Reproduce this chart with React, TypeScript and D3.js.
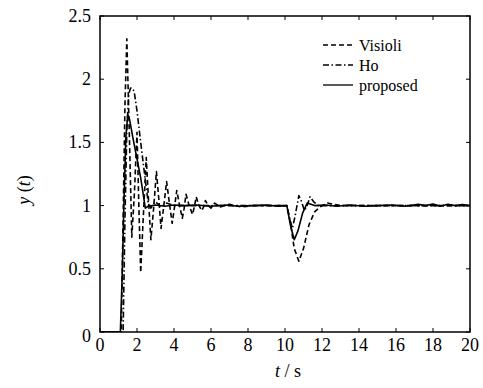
import * as d3 from 'd3';

// ─── Data ───────────────────────────────────────────────────

const X_TICKS = [0, 2, 4, 6, 8, 10, 12, 14, 16, 18, 20];
const Y_TICKS = [0, 0.5, 1, 1.5, 2, 2.5];
const Y_TICK_LABELS = ['0', '0.5', '1', '1.5', '2', '2.5'];

const SERIES_NAMES = ['Visioli', 'Ho', 'proposed'];

const visioliT = [0, 1.15, 1.25, 1.35, 1.45, 1.58, 1.72, 1.86, 2.0, 2.1, 2.2, 2.32, 2.5, 2.62, 2.75, 2.9, 3.05, 3.18, 3.3, 3.45, 3.6, 3.75, 3.9, 4.02, 4.15, 4.3, 4.45, 4.55, 4.65, 4.82, 5.0, 5.1, 5.2, 5.35, 5.5, 5.6, 5.7, 5.85, 6.0, 6.2, 6.5, 7.0, 7.6, 8.3, 9.0, 9.6, 10.1, 10.3, 10.5, 10.75, 11.0, 11.3, 11.6, 11.9, 12.3, 13.0, 14.0, 15.0, 16.0, 17.0, 18.0, 19.0, 20.0];
const visioliY = [0, 0, 0.9, 1.8, 2.32, 1.6, 0.75, 1.1, 1.58, 1.0, 0.47, 0.85, 1.38, 1.05, 0.73, 0.98, 1.27, 1.05, 0.82, 1.0, 1.19, 1.02, 0.86, 0.98, 1.12, 1.0, 0.9, 0.98, 1.09, 1.0, 0.93, 0.99, 1.07, 1.0, 0.96, 0.99, 1.04, 1.0, 0.98, 1.02, 0.99, 1.01, 0.99, 1.0, 1.0, 1.0, 1.0, 0.86, 0.66, 0.56, 0.66, 0.85, 0.95, 0.99, 1.02, 1.0, 1.0, 1.0, 1.0, 1.0, 1.0, 1.0, 1.0];

const hoT = [0, 1.25, 1.35, 1.45, 1.55, 1.65, 1.75, 1.85, 2.0, 2.2, 2.4, 2.6, 2.75, 3.0, 3.3, 3.6, 4.0, 5.0, 6.0, 8.0, 10.1, 10.25, 10.4, 10.55, 10.75, 10.9, 11.05, 11.2, 11.35, 11.55, 11.8, 12.5, 14.0, 16.0, 18.0, 20.0];
const hoY = [0, 0, 0.9, 1.6, 1.88, 1.93, 1.93, 1.9, 1.75, 1.5, 1.26, 1.03, 0.98, 1.03, 0.99, 1.02, 1.0, 1.0, 1.0, 1.0, 1.0, 0.9, 0.82, 0.92, 1.08, 1.03, 0.96, 1.0, 1.07, 1.03, 1.0, 1.0, 1.0, 1.0, 1.0, 1.0];

const proposedT = [0, 1.1, 1.2, 1.3, 1.4, 1.5, 1.6, 1.8, 2.0, 2.2, 2.45, 2.6, 3.0, 3.5, 4.0, 4.6, 5.2, 6.0, 6.8, 7.5, 8.2, 9.0, 9.6, 10.1, 10.3, 10.5, 10.7, 10.95, 11.2, 11.6, 12.2, 12.8, 13.5, 14.3, 15.0, 15.8, 16.5, 17.2, 17.6, 18.0, 18.4, 18.8, 19.2, 19.6, 20.0];
const proposedY = [0, 0, 0.45, 1.05, 1.55, 1.72, 1.68, 1.52, 1.37, 1.22, 0.98, 0.995, 1.005, 0.995, 1.005, 1.0, 1.005, 0.995, 1.005, 0.995, 1.0, 1.005, 0.995, 1.0, 0.84, 0.73, 0.8, 0.94, 1.02, 1.0, 1.005, 0.995, 1.005, 0.995, 1.0, 1.005, 0.995, 1.01, 1.0, 1.012, 0.995, 1.01, 1.0, 1.008, 1.0];

// ─── Layout ─────────────────────────────────────────────────

const W = 483;
const H = 388;
const PLOT = { left: 100, right: 470, top: 16, bottom: 332 };
const FONT = "'Liberation Serif', 'DejaVu Serif', 'Times New Roman', serif";
const TEXT_STYLE = { fontFamily: FONT };

const DASHES = ['5 3', '6 2.5 1.5 2.5', null];

export default function App() {
  const x = d3.scaleLinear().domain([0, 20]).range([PLOT.left, PLOT.right]);
  const y = d3.scaleLinear().domain([0, 2.5]).range([PLOT.bottom, PLOT.top]);

  const line = d3
    .line<[number, number]>()
    .x((d) => x(d[0]))
    .y((d) => y(d[1]));

  const series = [
    { name: SERIES_NAMES[0], pts: visioliT.map((t, i) => [t, visioliY[i]] as [number, number]), dash: DASHES[0] },
    { name: SERIES_NAMES[1], pts: hoT.map((t, i) => [t, hoY[i]] as [number, number]), dash: DASHES[1] },
    { name: SERIES_NAMES[2], pts: proposedT.map((t, i) => [t, proposedY[i]] as [number, number]), dash: DASHES[2] },
  ];

  const tickLen = 4;

  return (
    <svg
      width={W}
      height={H}
      style={{ position: 'absolute', left: 0, top: 0, background: '#fff' }}
    >
      <defs>
        <clipPath id="plot-clip">
          <rect x={PLOT.left} y={PLOT.top} width={PLOT.right - PLOT.left} height={PLOT.bottom - PLOT.top} />
        </clipPath>
      </defs>

      {/* Curves */}
      <g clipPath="url(#plot-clip)">
        {series.map((s) => (
          <path
            key={s.name}
            d={line(s.pts) || ''}
            fill="none"
            stroke="#000"
            strokeWidth={1.6}
            strokeDasharray={s.dash || undefined}
            strokeLinejoin="round"
          />
        ))}
      </g>

      {/* Frame */}
      <rect
        x={PLOT.left}
        y={PLOT.top}
        width={PLOT.right - PLOT.left}
        height={PLOT.bottom - PLOT.top}
        fill="none"
        stroke="#000"
        strokeWidth={1.5}
      />

      {/* X ticks (bottom + top, inward) */}
      {X_TICKS.map((t) => (
        <g key={`x${t}`}>
          <line x1={x(t)} x2={x(t)} y1={PLOT.bottom} y2={PLOT.bottom - tickLen} stroke="#000" strokeWidth={1} />
          <line x1={x(t)} x2={x(t)} y1={PLOT.top} y2={PLOT.top + tickLen} stroke="#000" strokeWidth={1} />
          <text x={x(t)} y={PLOT.bottom + 19} textAnchor="middle" fontSize={18} style={TEXT_STYLE}>
            {t}
          </text>
        </g>
      ))}

      {/* Y ticks (left + right, inward) */}
      {Y_TICKS.map((v, i) => (
        <g key={`y${v}`}>
          <line x1={PLOT.left} x2={PLOT.left + tickLen} y1={y(v)} y2={y(v)} stroke="#000" strokeWidth={1} />
          <line x1={PLOT.right} x2={PLOT.right - tickLen} y1={y(v)} y2={y(v)} stroke="#000" strokeWidth={1} />
          <text
            x={PLOT.left - 9}
            y={y(v) + (v === 0 ? 4 : 0)}
            textAnchor="end"
            dominantBaseline="central"
            fontSize={18}
            style={TEXT_STYLE}
          >
            {Y_TICK_LABELS[i]}
          </text>
        </g>
      ))}

      {/* Axis titles */}
      <text x={(PLOT.left + PLOT.right) / 2 + 3} y={377} textAnchor="middle" fontSize={18} style={TEXT_STYLE}>
        <tspan fontStyle="italic">t</tspan> / s
      </text>
      <text transform="translate(30,190) rotate(-90)" textAnchor="middle" fontSize={18} style={TEXT_STYLE}>
        <tspan fontStyle="italic">y</tspan> (<tspan fontStyle="italic">t</tspan>)
      </text>

      {/* Legend */}
      {series.map((s, i) => {
        const ly = 45 + i * 20;
        return (
          <g key={`lg${s.name}`}>
            <line
              x1={323}
              x2={353}
              y1={ly}
              y2={ly}
              stroke="#000"
              strokeWidth={1.3}
              strokeDasharray={s.dash || undefined}
            />
            <text x={359} y={ly} dominantBaseline="central" fontSize={16} style={TEXT_STYLE}>
              {s.name}
            </text>
          </g>
        );
      })}
    </svg>
  );
}
